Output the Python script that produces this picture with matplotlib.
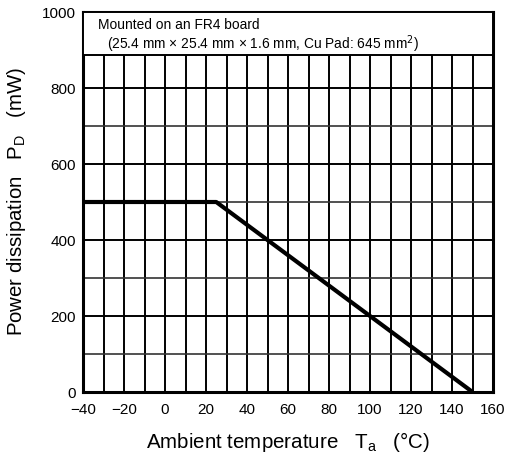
import matplotlib
matplotlib.use('Agg')
from matplotlib import pyplot as plt
from matplotlib.patches import Rectangle

plt.rcParams['font.family'] = ['Liberation Sans', 'DejaVu Sans']

# derating curve
temp = [-40, 25, 150]
power = [500, 500, 0]

x_ticks = [-40, -20, 0, 20, 40, 60, 80, 100, 120, 140, 160]
y_ticks = [0, 200, 400, 600, 800, 1000]
x_minor = list(range(-30, 160, 20))
y_minor = [100, 300, 500, 700, 900]

note_lines = ['Mounted on an FR4 board',
              '(25.4 mm \u00d7 25.4 mm \u00d7 1.6 mm, Cu Pad: 645 mm$^2$)']

fig = plt.figure(figsize=(5.07, 4.57), dpi=100)
ax = fig.add_axes([83 / 507, 65 / 457, 410 / 507, 380 / 457])

ax.set_xlim(-40, 160)
ax.set_ylim(0, 1000)
ax.set_xticks(x_ticks)
ax.set_yticks(y_ticks)
ax.set_xticks(x_minor, minor=True)
ax.set_yticks(y_minor, minor=True)
ax.set_xticklabels([str(t).replace('-', '\u2212') for t in x_ticks])
ax.grid(True, which='both', axis='x', color='black', lw=1.4)
ax.grid(True, which='major', axis='y', color='black', lw=1.4)
ax.grid(True, which='minor', axis='y', color='#333333', lw=1.2)
ax.tick_params(which='both', length=0, labelsize=11)
ax.tick_params(axis='x', pad=8)
ax.tick_params(axis='y', pad=5)

for s in ax.spines.values():
    s.set_linewidth(2.2)

ax.plot(temp, power, color='black', lw=3, solid_capstyle='butt', zorder=3)

# note box over the top of the grid
ax.add_patch(Rectangle((0, 0.888), 1, 0.112, transform=ax.transAxes,
                       facecolor='white', edgecolor='black', lw=1.4, zorder=4))
ax.text(0.037, 0.966, note_lines[0], transform=ax.transAxes, fontsize=9.9,
        va='center', zorder=5)
ax.text(0.058, 0.916, note_lines[1], transform=ax.transAxes, fontsize=9.9,
        va='center', zorder=5)

ax.set_xlabel('Ambient temperature   T$_{\\mathregular{a}}$   (\u00b0C)', fontsize=14.8, labelpad=9)
ax.set_ylabel('Power dissipation   P$_{\\mathregular{D}}$   (mW)', fontsize=14.7, labelpad=10)

fig.savefig('out.png', dpi=100)
